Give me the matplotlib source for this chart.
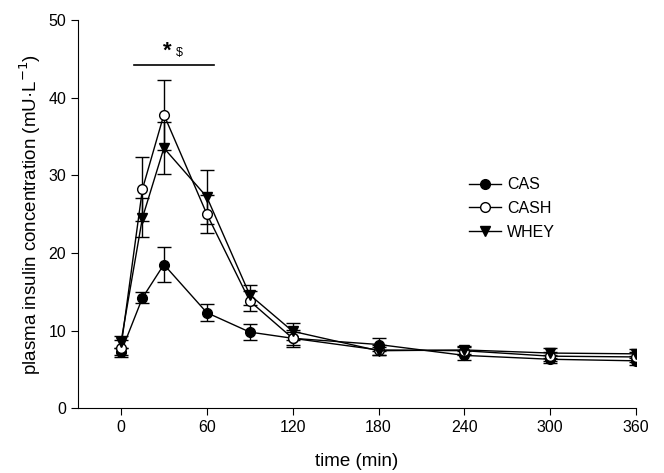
import matplotlib
matplotlib.use("Agg")
import matplotlib.pyplot as plt

plt.rcParams['font.family'] = ['Liberation Sans', 'DejaVu Sans']

time = [0, 15, 30, 60, 90, 120, 180, 240, 300, 360]
cas = [7.2, 14.2, 18.5, 12.3, 9.8, 9.0, 8.2, 6.8, 6.3, 6.1]
cas_err = [0.6, 0.7, 2.2, 1.1, 1.0, 0.8, 0.8, 0.6, 0.5, 0.6]
cash = [7.8, 28.2, 37.8, 25.0, 13.8, 9.0, 7.5, 7.4, 6.7, 6.6]
cash_err = [1.0, 4.1, 4.5, 2.4, 1.3, 1.1, 0.6, 0.5, 0.6, 0.6]
whey = [8.5, 24.5, 33.5, 27.2, 14.6, 9.9, 7.4, 7.5, 7.1, 7.0]
whey_err = [0.8, 2.5, 3.3, 3.5, 1.3, 1.1, 0.5, 0.5, 0.6, 0.6]

xticks = [0, 60, 120, 180, 240, 300, 360]
yticks = [0, 10, 20, 30, 40, 50]

fig = plt.figure(figsize=(6.64, 4.73), dpi=100)
ax = fig.add_axes([0.1175, 0.137, 0.8405, 0.821])

common = dict(color='black', lw=1.0, capsize=5, elinewidth=1.0, capthick=1.0, markersize=7)
c1 = ax.errorbar(time, cas, yerr=cas_err, marker='o', mfc='black', mec='black', **common)
c2 = ax.errorbar(time, cash, yerr=cash_err, marker='o', mfc='white', mec='black', **common)
c3 = ax.errorbar(time, whey, yerr=whey_err, marker='v', mfc='black', mec='black', **common)

ax.plot([9.3, 65], [44.2, 44.2], color='black', lw=1.2)
ax.text(32.5, 44.6, '*', fontsize=16, ha='center', va='bottom', fontweight='bold')
ax.text(40.5, 45.0, '$', fontsize=9, ha='center', va='bottom')

ax.set_xlim(-30, 360)
ax.set_ylim(0, 50)
ax.set_xticks(xticks)
ax.set_yticks(yticks)
ax.spines['top'].set_visible(False)
ax.spines['right'].set_visible(False)
ax.tick_params(direction='out', labelsize=11.5, length=5)
ax.set_xlabel('time (min)', fontsize=13.5, labelpad=13)
ax.set_ylabel('plasma insulin concentration (mU·L$^{-1}$)', fontsize=13.5, labelpad=4)

ax.legend([c1.lines[0], c2.lines[0], c3.lines[0]], ['CAS', 'CASH', 'WHEY'],
          loc='upper left', bbox_to_anchor=(0.70, 0.595), frameon=False, fontsize=11.5,
          handlelength=2.0, handletextpad=0.4, labelspacing=0.55, borderaxespad=0, borderpad=0)

fig.savefig('out.png', dpi=100)
